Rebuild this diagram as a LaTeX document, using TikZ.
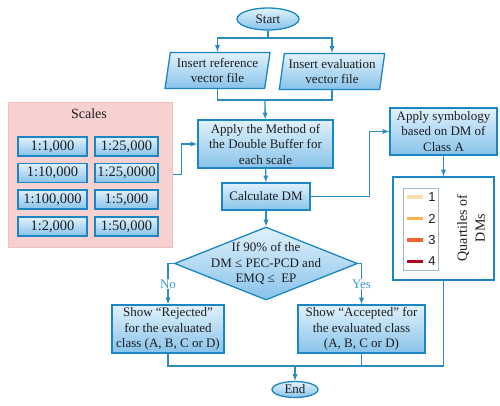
\documentclass[tikz,border=0pt]{standalone}
\usepackage{fontspec}
\setmainfont{Liberation Serif}
\newfontfamily\legendfont{Liberation Sans}
\usetikzlibrary{shapes.geometric}
\definecolor{boxline}{RGB}{27,134,195}
\definecolor{flowline}{RGB}{46,139,192}
\definecolor{boxtop}{RGB}{224,241,252}
\definecolor{boxbottom}{RGB}{136,195,234}
\definecolor{panelpink}{RGB}{247,208,208}
\definecolor{paneledge}{RGB}{242,192,192}
\definecolor{legendedge}{RGB}{160,185,205}
\definecolor{qone}{RGB}{252,222,170}
\definecolor{qtwo}{RGB}{253,178,78}
\definecolor{qthree}{RGB}{242,99,54}
\definecolor{qfour}{RGB}{180,0,30}
\definecolor{bodytext}{RGB}{30,30,30}
\definecolor{answertext}{RGB}{58,154,208}

\tikzset{
  base/.style={draw=boxline, line width=1.3pt, top color=boxtop, bottom color=boxbottom,
    text=bodytext, font=\fontsize{13}{15.5}\selectfont, align=center, inner sep=1pt},
  process/.style={base, rectangle},
  terminal/.style={base, ellipse, inner sep=0pt},
  inout/.style={base, trapezium, trapezium left angle=80, trapezium right angle=100,
    trapezium stretches=true, minimum width=106pt, minimum height=36pt},
  decision/.style={base, diamond, inner sep=0pt, minimum width=183pt, minimum height=73pt},
  scalebtn/.style={base, line width=1.2pt, font=\fontsize{14.5}{16}\selectfont, minimum height=19pt},
  flow/.style={draw=flowline, line width=1.3pt, -latex},
  link/.style={draw=flowline, line width=1.3pt},
  answer/.style={fill=white, text=answertext, inner sep=1pt, font=\fontsize{13}{15}\selectfont}
}

\begin{document}
\begin{tikzpicture}[x=1pt, y=-1pt]
  \useasboundingbox (0,0) rectangle (500,405);
  % scales panel
  \node[fill=panelpink, draw=paneledge, line width=1pt, minimum width=164pt, minimum height=145pt] (scales) at (90,174.5) {};
  \node[text=bodytext, font=\fontsize{14}{16}\selectfont] (scalestitle) at (89,114) {Scales};
  \node[scalebtn, minimum width=69pt] (sa) at (52.5,146.5) {1:1,000};
  \node[scalebtn, minimum width=63pt] (sb) at (126.5,146.5) {1:25,000};
  \node[scalebtn, minimum width=69pt] (sc) at (52.5,173) {1:10,000};
  \node[scalebtn, minimum width=63pt] (sd) at (126.5,173) {1:25,0000};
  \node[scalebtn, minimum width=69pt] (se) at (52.5,199.5) {1:100,000};
  \node[scalebtn, minimum width=63pt] (sf) at (126.5,199.5) {1:5,000};
  \node[scalebtn, minimum width=69pt] (sg) at (52.5,226.5) {1:2,000};
  \node[scalebtn, minimum width=63pt] (sh) at (126.5,226.5) {1:50,000};
  % main column
  \node[terminal, minimum width=62pt, minimum height=22pt] (start) at (268,19) {Start};
  \node[inout] (inref) at (217.5,70.5) {Insert reference\\vector file};
  \node[inout] (ineval) at (332,71.5) {Insert evaluation\\vector file};
  \node[process, minimum width=135pt, minimum height=48pt] (method) at (265.5,144) {Apply the Method of\\the Double Buffer for\\each scale};
  \node[process, minimum width=88pt, minimum height=27pt] (calc) at (266,196.5) {Calculate DM};
  \node[decision] (cond) at (266,263.5) {};
  \node[text=bodytext, font=\fontsize{13}{15.5}\selectfont, align=center] (condtext) at (266,263.5)
    {If 90\% of the\\DM ≤ PEC-PCD and\\EMQ ≤\ \ EP};
  \node[process, minimum width=112pt, minimum height=48pt] (reject) at (168,329) {Show “Rejected”\\for the evaluated\\class (A, B, C or D)};
  \node[process, minimum width=127pt, minimum height=48pt] (accept) at (361.5,329) {Show “Accepted” for\\the evaluated class\\(A, B, C or D)};
  \node[terminal, minimum width=46pt, minimum height=16pt] (stop) at (295,389.5) {End};
  % right column
  \node[process, minimum width=107pt, minimum height=47pt] (symb) at (443.5,131.5) {Apply symbology\\based on DM of\\Class A};
  \node[draw=boxline, fill=white, line width=1.3pt, minimum width=101pt, minimum height=103pt] (quart) at (443.5,228.5) {};
  \node[draw=legendedge, line width=0.8pt, minimum width=35pt, minimum height=82pt] (legend) at (420.5,229) {};
  \draw[qone, line width=3.5pt] (407,197) -- (423,197);
  \draw[qtwo, line width=3.5pt] (407,218.5) -- (423,218.5);
  \draw[qthree, line width=3.5pt] (407,240) -- (423,240);
  \draw[qfour, line width=3.5pt] (407,261.5) -- (423,261.5);
  \node[text=bodytext, font=\legendfont\fontsize{13}{15}\selectfont] (qa) at (432,197) {1};
  \node[text=bodytext, font=\legendfont\fontsize{13}{15}\selectfont] (qb) at (432,218.5) {2};
  \node[text=bodytext, font=\legendfont\fontsize{13}{15}\selectfont] (qc) at (432,240) {3};
  \node[text=bodytext, font=\legendfont\fontsize{13}{15}\selectfont] (qd) at (432,261.5) {4};
  \node[rotate=90, text=bodytext, font=\fontsize{14}{18}\selectfont, align=center] (quarttext) at (471,228) {Quartiles of\\DMs};
  % connectors
  \coordinate (split) at (268,38);
  \coordinate (gather) at (265,100);
  \coordinate (merge) at (295,366);
  \draw[link] (start) -- (split);
  \draw[flow] (split) -| (inref.north);
  \draw[flow] (split) -| (ineval.north);
  \draw[link] (inref.south) |- (gather);
  \draw[link] (ineval.south) |- (gather);
  \draw[flow] (gather) -- (method);
  \draw[flow] (scales.east) -- ++(9,0) |- (method.west);
  \draw[flow] (method) -- (calc);
  \draw[flow] (calc.east) -- ++(59,0) |- (symb.west);
  \draw[flow] (symb) -- (quart);
  \draw[flow] (calc) -- (cond);
  \draw[flow] (cond.west) -| (reject.north) node[answer, pos=0.75] {No};
  \draw[flow] (cond.east) -| (accept.north) node[answer, pos=0.75] {Yes};
  \draw[link] (reject.south) |- (merge);
  \draw[link] (accept.south) |- (merge);
  \draw[link] (quart.south) |- (merge);
  \draw[flow] (merge) -- (stop);
\end{tikzpicture}
\end{document}
